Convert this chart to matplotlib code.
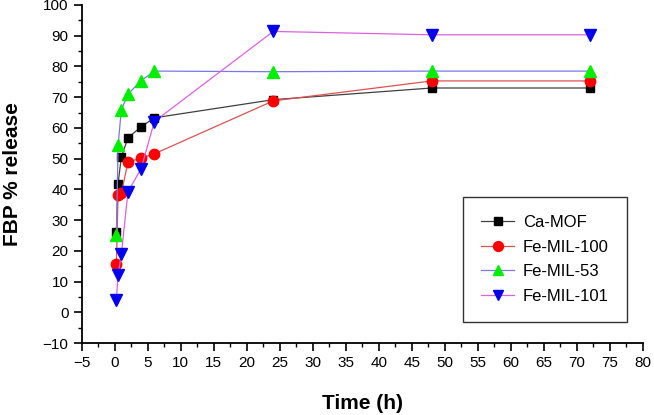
import matplotlib
matplotlib.use("Agg")
import matplotlib.pyplot as plt
from matplotlib.ticker import MultipleLocator, FuncFormatter

plt.rcParams['font.family'] = ['Liberation Sans', 'DejaVu Sans']

time = [0.25, 0.5, 1, 2, 4, 6, 24, 48, 72]
ca_mof = [26.3, 41.9, 50.6, 56.8, 60.4, 63.3, 69.2, 73.0, 73.0]
fe_mil_100 = [15.9, 38.3, 38.8, 48.9, 50.2, 51.6, 68.8, 75.3, 75.3]
fe_mil_53 = [25.1, 54.3, 65.9, 71.0, 75.4, 78.5, 78.3, 78.5, 78.5]
fe_mil_101 = [4.2, 12.3, 19.0, 39.2, 46.8, 62.1, 91.4, 90.3, 90.3]

labels = ['Ca-MOF', 'Fe-MIL-100', 'Fe-MIL-53', 'Fe-MIL-101']

fig = plt.figure(figsize=(6.54, 4.15), dpi=100)
ax = fig.add_axes([0.125, 0.173, 0.858, 0.815])

ax.plot(time, ca_mof, color='#404040', lw=0.9, marker='s', ms=6,
        mfc='black', mec='black', label=labels[0])
ax.plot(time, fe_mil_100, color='#e05050', lw=0.9, marker='o', ms=7.5,
        mfc='#ff0000', mec='#ff0000', label=labels[1])
ax.plot(time, fe_mil_53, color='#7878e8', lw=0.9, marker='^', ms=8,
        mfc='#00ee00', mec='#00ee00', label=labels[2])
ax.plot(time, fe_mil_101, color='#e060e0', lw=0.9, marker='v', ms=8,
        mfc='#0000ee', mec='#0000ee', label=labels[3])

ax.set_xlim(-5, 80)
ax.set_ylim(-10, 100)
ax.xaxis.set_major_locator(MultipleLocator(5))
ax.xaxis.set_minor_locator(MultipleLocator(2.5))
ax.yaxis.set_major_locator(MultipleLocator(10))
ax.yaxis.set_minor_locator(MultipleLocator(5))
fmt = FuncFormatter(lambda v, p: ('\u2212%d' % -v) if v < 0 else '%d' % v)
ax.xaxis.set_major_formatter(fmt)
ax.yaxis.set_major_formatter(fmt)

for s in ['top', 'right']:
    ax.spines[s].set_visible(False)
for s in ['left', 'bottom']:
    ax.spines[s].set_linewidth(1.3)
ax.tick_params(which='major', direction='out', length=6, width=1.2, labelsize=11)
ax.tick_params(which='minor', direction='out', length=3, width=1.0)

ax.set_xlabel('Time (h)', fontsize=15, fontweight='bold', labelpad=17)
ax.set_ylabel('FBP % release', fontsize=15, fontweight='bold', labelpad=15)

leg = ax.legend(loc='lower right', bbox_to_anchor=(0.9715, 0.062), borderaxespad=0,
                fontsize=12, frameon=True, fancybox=False, edgecolor='black',
                handlelength=2.0, handletextpad=0.5, borderpad=1.1,
                labelspacing=0.58, markerscale=0.95)
leg.get_frame().set_linewidth(1.0)

fig.savefig('out.png', dpi=100)
